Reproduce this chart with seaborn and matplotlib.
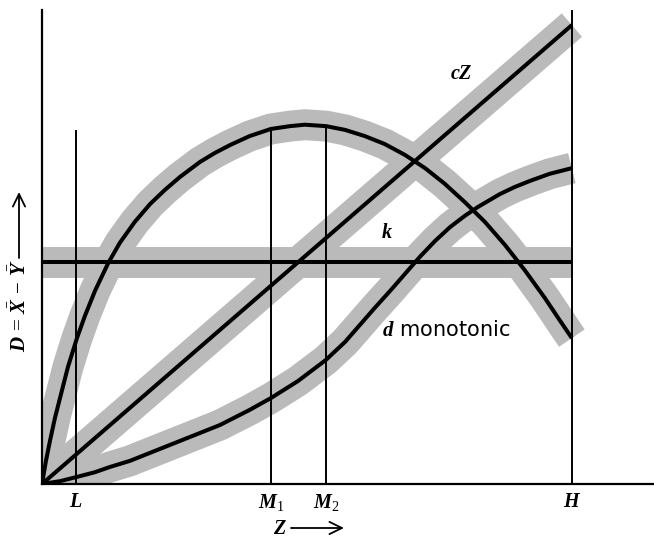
import numpy as np
import matplotlib
matplotlib.use("Agg")
import matplotlib.pyplot as plt
from matplotlib.patches import FancyArrowPatch
import seaborn as sns

# Marked positions on the Z axis
z_marks = [0.64, 4.32, 5.36, 10.0]
mark_labels = [r"$L$", r"$M_1$", r"$M_2$", r"$H$"]

# Dome-shaped difference curve
dome_z = [0.0, 0.038, 0.075, 0.15, 0.245, 0.34, 0.49, 0.66, 0.81, 1.0, 1.25, 1.47,
          1.75, 2.04, 2.32, 2.60, 2.98, 3.26, 3.55, 3.92, 4.32, 4.68, 4.96, 5.36,
          5.72, 6.09, 6.47, 6.85, 7.23, 7.60, 7.98, 8.36, 8.74, 9.11, 9.49, 9.77,
          10.0]
dome_d = [0.0, 0.25, 0.49, 0.91, 1.40, 1.82, 2.48, 3.09, 3.56, 4.09, 4.68, 5.11,
          5.55, 5.93, 6.23, 6.50, 6.82, 7.01, 7.18, 7.37, 7.52, 7.58, 7.61, 7.58,
          7.50, 7.37, 7.20, 6.97, 6.69, 6.36, 5.97, 5.55, 5.06, 4.53, 3.94, 3.47,
          3.09]

# Monotonic difference curve
mono_z = [0.0, 0.34, 0.66, 1.0, 1.28, 1.66, 2.04, 2.51, 2.98, 3.36, 3.92, 4.32,
          4.83, 5.36, 5.72, 6.0, 6.28, 6.57, 6.85, 7.13, 7.42, 7.70, 7.98, 8.23,
          8.64, 8.92, 9.21, 9.58, 10.0]
mono_d = [0.0, 0.06, 0.15, 0.25, 0.36, 0.49, 0.66, 0.87, 1.08, 1.25, 1.57, 1.82,
          2.18, 2.63, 3.01, 3.37, 3.73, 4.09, 4.45, 4.81, 5.15, 5.44, 5.68, 5.87,
          6.14, 6.29, 6.42, 6.57, 6.69]

# Proportional line cZ
cz_z = [0.0, 10.0]
cz_d = [0.0, 9.72]

# Constant k
k_z = [0.0, 10.0]
k_level = 4.70

# Upper ends of the vertical guides at L and H
l_top = 7.5
h_top = 10.04

sns.set_theme(style="white")
plt.rcParams["font.family"] = ["DejaVu Sans"]
plt.rcParams["text.color"] = "black"
plt.rcParams["mathtext.fontset"] = "custom"
plt.rcParams["mathtext.it"] = "Liberation Serif:italic:bold"
plt.rcParams["mathtext.rm"] = "Liberation Serif"
plt.rcParams["mathtext.bf"] = "Liberation Serif:bold"

fig = plt.figure(figsize=(6.54, 5.4), dpi=100)
ax = fig.add_axes([0.0642, 0.1037, 0.9358, 0.8778])

curves = [
    (dome_z, dome_d),
    (mono_z, mono_d),
    (cz_z, cz_d),
    (k_z, [k_level] * len(k_z)),
]

band_kw = dict(color="#bababa", linewidth=22.3, solid_capstyle="butt",
               solid_joinstyle="round")
line_kw = dict(color="black", linewidth=2.9, solid_capstyle="butt",
               solid_joinstyle="round")

# Shaded bands first, curves on top
for z, d in curves:
    sns.lineplot(x=z, y=d, ax=ax, sort=False, estimator=None, **band_kw)

# Vertical guides at L, M1, M2, H
guide_tops = [l_top,
              float(np.interp(z_marks[1], dome_z, dome_d)),
              float(np.interp(z_marks[2], dome_z, dome_d)),
              h_top]
ax.vlines(z_marks, 0, guide_tops, color="black", linewidth=1.4, zorder=3)

for z, d in curves:
    sns.lineplot(x=z, y=d, ax=ax, sort=False, estimator=None, zorder=4, **line_kw)

ax.set_xlim(0, 11.55)
ax.set_ylim(0, 10.04)

for side in ("top", "right"):
    ax.spines[side].set_visible(False)
for side in ("left", "bottom"):
    ax.spines[side].set_color("black")
    ax.spines[side].set_linewidth(1.6)
    ax.spines[side].set_zorder(5)

ax.set_xticks(z_marks, mark_labels)
ax.set_yticks([])
ax.tick_params(axis="x", length=0, pad=6, labelsize=14.5, colors="black")
ax.set_xlabel("")
ax.set_ylabel("")

# Curve annotations
ax.text(7.91, 8.69, r"$cZ$", fontsize=14.5, ha="center", va="center")
ax.text(6.51, 5.32, r"$k$", fontsize=14.5, ha="center", va="center")
ax.text(6.42, 3.26, r"$d$ monotonic", fontsize=15, ha="left", va="center")

# Axis titles with long arrows
arrow_kw = dict(arrowstyle="->,head_length=0.45,head_width=0.22", color="black",
                lw=1.3, shrinkA=0, shrinkB=0, mutation_scale=20)
fig.text(280 / 654, 1 - 528 / 540, r"$Z$", fontsize=14.5, ha="center", va="center")
fig.add_artist(FancyArrowPatch(
    (291 / 654, 1 - 528 / 540), (344 / 654, 1 - 528 / 540),
    transform=fig.transFigure, **arrow_kw))

fig.text(19 / 654, 1 - 306 / 540, r"$D\,=\,\bar{X}\,-\,\bar{Y}$", fontsize=15,
         rotation=90, ha="center", va="center")
fig.add_artist(FancyArrowPatch(
    (19 / 654, 1 - 258 / 540), (19 / 654, 1 - 192 / 540),
    transform=fig.transFigure, **arrow_kw))

fig.savefig("out.png", dpi=100, facecolor="white")
